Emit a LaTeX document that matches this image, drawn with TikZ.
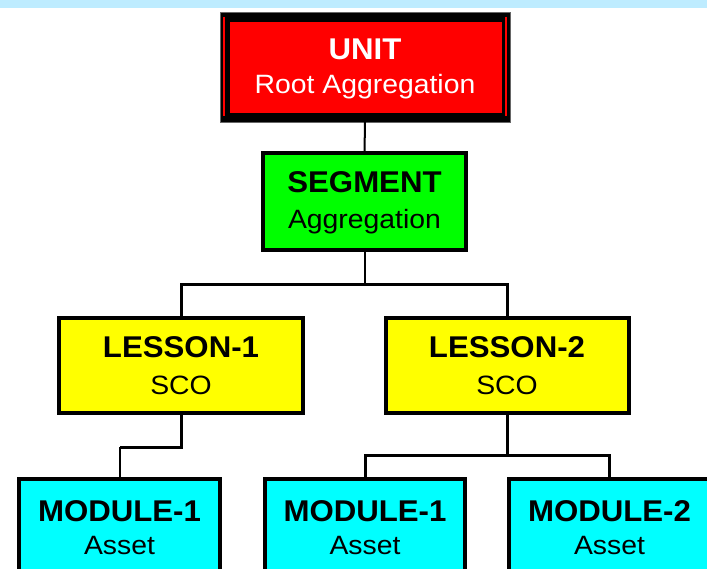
\documentclass[tikz,border=0pt]{standalone}
\usepackage{fontspec}
\setmainfont{Liberation Sans}
\newfontfamily\regf[FakeStretch=1.07]{Liberation Sans}
\newfontfamily\boldf[FakeStretch=1.04]{Liberation Sans Bold}
\definecolor{band}{RGB}{190,236,255}
\definecolor{redf}{RGB}{255,0,0}
\definecolor{greenf}{RGB}{0,255,0}
\definecolor{yellowf}{RGB}{255,255,0}
\definecolor{cyanf}{RGB}{0,255,255}
\tikzset{
  boxnode/.style={draw=black, line width=4pt, inner sep=0pt, outer sep=0pt},
  titletext/.style={font=\fontsize{30}{30}\selectfont\boldf, anchor=base, inner sep=0pt},
  subtext/.style={font=\fontsize{26.5}{27}\selectfont\regf, anchor=base, inner sep=0pt},
  thinlink/.style={draw=black, line width=2pt},
  thicklink/.style={draw=black, line width=3pt},
}
\begin{document}
\begin{tikzpicture}[x=1pt, y=-1pt]
\useasboundingbox (0,0) rectangle (707,569);
\clip (0,0) rectangle (707,569);
\fill[white] (0,0) rectangle (707,569);
\fill[band] (0,0) rectangle (707,8);

% UNIT
\node[fill=black, draw=black!60, line width=0.6pt, inner sep=0pt, outer sep=0pt,
      minimum width=290pt, minimum height=110pt] (unit) at (365,67) {};
\node[fill=redf, inner sep=0pt, outer sep=0pt, minimum width=272pt, minimum height=91pt] (unitin) at (366,67.5) {};
\draw[redf, line width=2pt] (223.5,17) -- (223.5,116);
\draw[redf, line width=2pt] (505.5,17) -- (505.5,116);
\node[titletext, text=white] (unitt) at (365,60) {UNIT};
\node[subtext, text=white] (units) at (365,94) {Root Aggregation};

% SEGMENT
\node[boxnode, fill=greenf, minimum width=203pt, minimum height=97pt] (seg) at (364.5,201.5) {};
\node[titletext] (segt) at (364.5,193) {SEGMENT};
\node[subtext] (segs) at (364.5,229) {Aggregation};

% LESSONS
\node[boxnode, fill=yellowf, minimum width=244pt, minimum height=95pt] (les1) at (181,365.5) {};
\node[titletext] (les1t) at (181,357) {LESSON-1};
\node[subtext] (les1s) at (181,394) {SCO};
\node[boxnode, fill=yellowf, minimum width=243pt, minimum height=95pt] (les2) at (507,365.5) {};
\node[titletext] (les2t) at (507,357) {LESSON-2};
\node[subtext] (les2s) at (507,394) {SCO};

% MODULES
\node[boxnode, fill=cyanf, minimum width=201pt, minimum height=120pt] (mod1) at (119.5,539) {};
\node[titletext] (mod1t) at (119.5,521) {MODULE-1};
\node[subtext] (mod1s) at (119.5,554) {Asset};
\node[boxnode, fill=cyanf, minimum width=200pt, minimum height=120pt] (mod2) at (365,539) {};
\node[titletext] (mod2t) at (365,521) {MODULE-1};
\node[subtext] (mod2s) at (365,554) {Asset};
\node[boxnode, fill=cyanf, minimum width=201pt, minimum height=120pt] (mod3) at (609.5,539) {};
\node[titletext] (mod3t) at (609.5,521) {MODULE-2};
\node[subtext] (mod3s) at (609.5,554) {Asset};

% connectors
\draw[thinlink] (unit.south) -- (seg.north);
\draw[thinlink] (seg.south) -- (364.5,285);
\draw[thicklink] (les1.north) -- (181,285) -- (507,285) -- (les2.north);
\draw[thicklink] (les1.south) -- (181,447) -- (119.5,447);
\draw[thinlink] (119.5,447) -- (mod1.north);
\draw[thicklink] (les2.south) -- (507,455);
\draw[thicklink] (mod2.north) -- (365,455) -- (609.5,455) -- (mod3.north);
\end{tikzpicture}
\end{document}
